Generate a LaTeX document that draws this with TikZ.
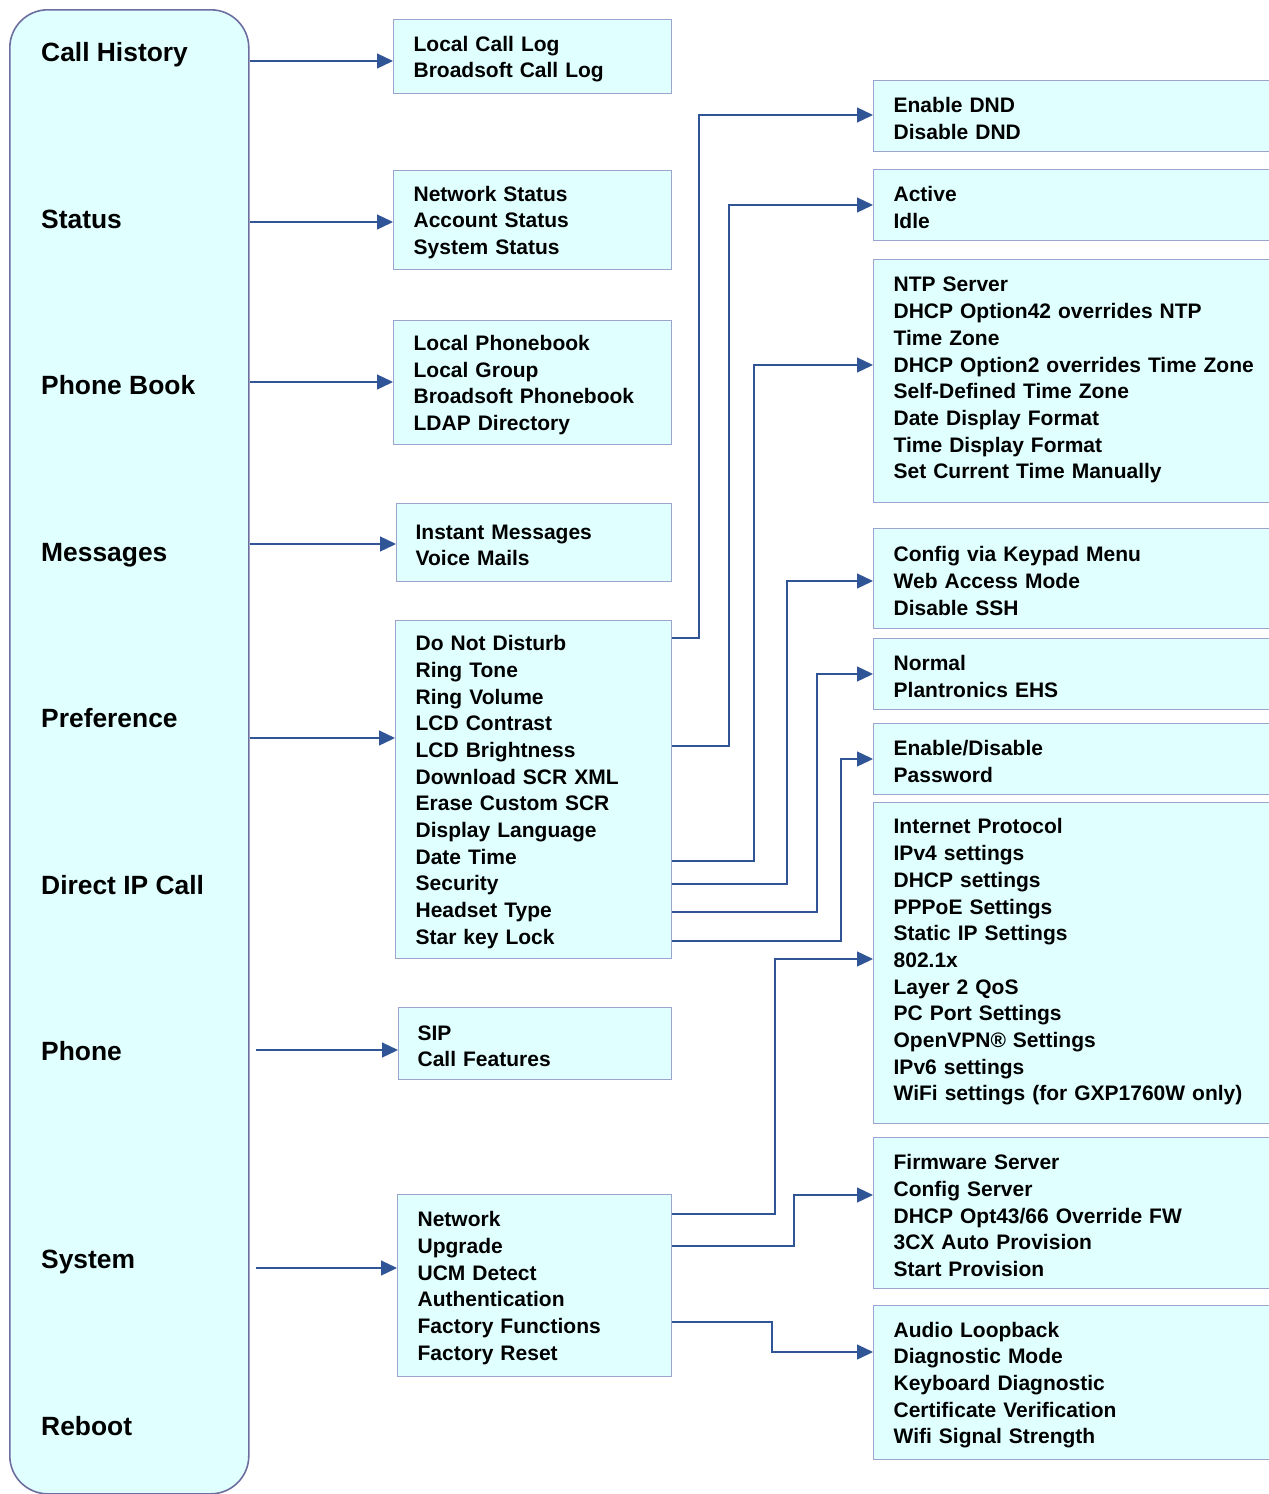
\documentclass[tikz,border=0pt]{standalone}
\usepackage{fontspec}
\setmainfont{Liberation Sans}
\usetikzlibrary{arrows.meta}
\definecolor{boxfill}{HTML}{E0FFFF}
\definecolor{menuline}{HTML}{6E6EA0}
\definecolor{boxline}{HTML}{9DA3CF}
\definecolor{connblue}{HTML}{2F5597}
\begin{document}
\begin{tikzpicture}[x=1pt,y=-1pt,
  menubox/.style={draw=menuline, line width=1.6pt, fill=boxfill, rounded corners=38pt, anchor=north west, inner sep=0pt},
  menulabel/.style={anchor=base west, inner sep=0pt, font=\fontsize{26.4}{30}\selectfont\bfseries},
  item/.style={draw=boxline, line width=1.3pt, fill=boxfill, anchor=north west, inner xsep=20pt, inner ysep=0pt, align=left, font=\fontsize{21}{26.7}\selectfont\bfseries, execute at begin node={\rule{0pt}{20pt}}},
  ritem/.style={item, text width=380pt},
  raised/.style={execute at end node={\rule[-11.5pt]{0pt}{1pt}}},
  link/.style={draw=connblue, line width=1.3pt, -{Triangle[length=16pt,width=15pt]}}]
\useasboundingbox (0,0) rectangle (1269,1494);
% main menu
\node[menubox, minimum width=239pt, minimum height=1484pt] (menu) at (9,9) {};
\node[menulabel] (lch) at (41,61) {Call History};
\node[menulabel] (lst) at (41,228) {Status};
\node[menulabel] (lpb) at (41,394) {Phone Book};
\node[menulabel] (lmsg) at (41,561) {Messages};
\node[menulabel] (lpref) at (41,727) {Preference};
\node[menulabel] (ldip) at (41,894) {Direct IP Call};
\node[menulabel] (lph) at (41,1060) {Phone};
\node[menulabel] (lsys) at (41,1268) {System};
\node[menulabel] (lrb) at (41,1435) {Reboot};
% middle column
\node[item, text width=238pt, minimum height=74pt] (ch) at (393,19) {Local Call Log\\Broadsoft Call Log};
\node[item, text width=238pt, minimum height=99pt] (st) at (393,170) {Network Status\\Account Status\\System Status};
\node[item, text width=238pt, minimum height=124pt] (pb) at (393,320) {Local Phonebook\\Local Group\\Broadsoft Phonebook\\LDAP Directory};
\node[item, inner xsep=19pt, text width=237pt, minimum height=78pt] (msg) at (396,503) {Instant Messages\\Voice Mails};
\node[item, text width=236pt, minimum height=338pt] (pref) at (395,620) {Do Not Disturb\\Ring Tone\\Ring Volume\\LCD Contrast\\LCD Brightness\\Download SCR XML\\Erase Custom SCR\\Display Language\\Date Time\\Security\\Headset Type\\Star key Lock};
\node[item, inner xsep=19pt, text width=235pt, minimum height=72pt] (sip) at (398,1007) {SIP\\Call Features};
\node[item, text width=234pt, minimum height=182pt] (sys) at (397,1194) {Network\\Upgrade\\UCM Detect\\Authentication\\Factory Functions\\Factory Reset};
% right column
\node[ritem, minimum height=71pt] (r1) at (873,80) {Enable DND\\Disable DND};
\node[ritem, minimum height=71pt] (r2) at (873,169) {Active\\Idle};
\node[ritem, raised, minimum height=243pt] (r3) at (873,259) {NTP Server\\DHCP Option42 overrides NTP\\Time Zone\\DHCP Option2 overrides Time Zone\\Self-Defined Time Zone\\Date Display Format\\Time Display Format\\Set Current Time Manually};
\node[ritem, minimum height=100pt] (r4) at (873,528) {Config via Keypad Menu\\Web Access Mode\\Disable SSH};
\node[ritem, minimum height=71pt] (r5) at (873,638) {Normal\\Plantronics EHS};
\node[ritem, minimum height=71pt] (r6) at (873,723) {Enable/Disable\\Password};
\node[ritem, raised, minimum height=321pt] (r7) at (873,802) {Internet Protocol\\IPv4 settings\\DHCP settings\\PPPoE Settings\\Static IP Settings\\802.1x\\Layer 2 QoS\\PC Port Settings\\OpenVPN® Settings\\IPv6 settings\\WiFi settings (for GXP1760W only)};
\node[ritem, minimum height=151pt] (r8) at (873,1137) {Firmware Server\\Config Server\\DHCP Opt43/66 Override FW\\3CX Auto Provision\\Start Provision};
\node[ritem, minimum height=154pt] (r9) at (873,1305) {Audio Loopback\\Diagnostic Mode\\Keyboard Diagnostic\\Certificate Verification\\Wifi Signal Strength};
% menu connectors
\draw[link] (menu.east |- 0,61) -- (ch.west |- 0,61);
\draw[link] (menu.east |- 0,222) -- (st.west |- 0,222);
\draw[link] (menu.east |- 0,382) -- (pb.west |- 0,382);
\draw[link] (menu.east |- 0,544) -- (msg.west |- 0,544);
\draw[link] (menu.east |- 0,738) -- (pref.west |- 0,738);
\draw[link] ([xshift=6pt]menu.east |- 0,1050) -- (sip.west |- 0,1050);
\draw[link] ([xshift=6pt]menu.east |- 0,1268) -- (sys.west |- 0,1268);
% preference connectors
\draw[link] (pref.east |- 0,638) -- (699,638) |- (r1.west |- 0,115);
\draw[link] (pref.east |- 0,746) -- (729,746) |- (r2.west |- 0,205);
\draw[link] (pref.east |- 0,861) -- (754,861) |- (r3.west |- 0,365);
\draw[link] (pref.east |- 0,884) -- (787,884) |- (r4.west |- 0,581);
\draw[link] (pref.east |- 0,912) -- (817,912) |- (r5.west |- 0,674);
\draw[link] (pref.east |- 0,941) -- (841,941) |- (r6.west |- 0,759);
% system connectors
\draw[link] (sys.east |- 0,1214) -- (775,1214) |- (r7.west |- 0,959);
\draw[link] (sys.east |- 0,1246) -- (794,1246) |- (r8.west |- 0,1195);
\draw[link] (sys.east |- 0,1322) -- (772,1322) |- (r9.west |- 0,1352);
\end{tikzpicture}
\end{document}
